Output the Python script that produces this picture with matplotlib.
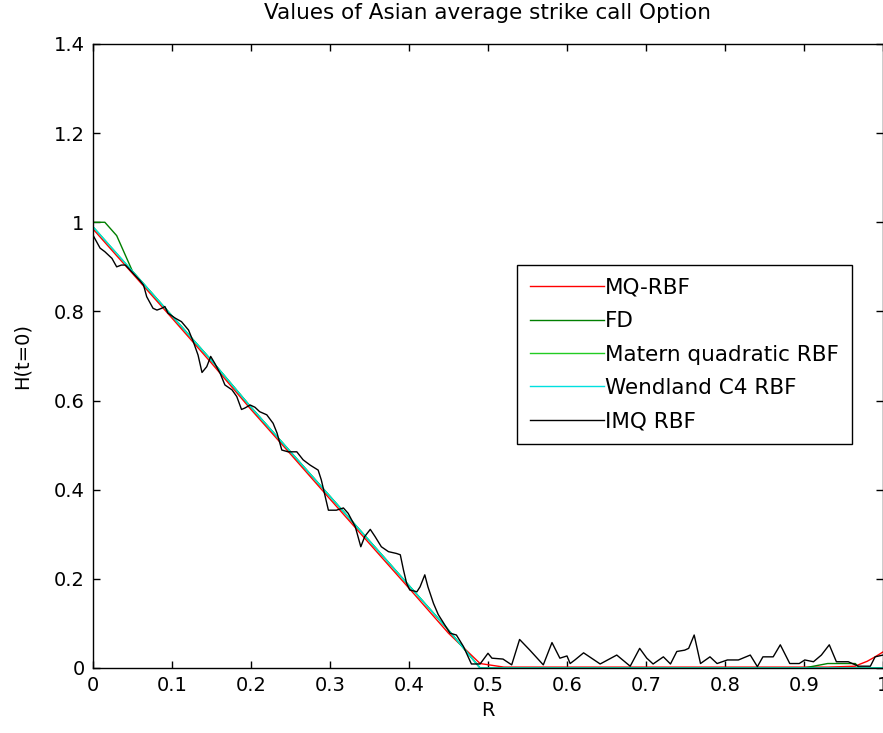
import matplotlib
matplotlib.use('Agg')
import matplotlib.pyplot as plt

# smooth solutions
r_smooth = [0.0, 0.015, 0.03, 0.05, 0.10, 0.15, 0.20, 0.25, 0.30, 0.35, 0.40, 0.45, 0.49,
            0.52, 0.60, 0.70, 0.80, 0.90, 0.93, 0.965, 0.97, 0.98, 0.99, 1.0]
mq_rbf = [0.985, 0.955, 0.925, 0.885, 0.785, 0.684, 0.580, 0.480, 0.379, 0.279, 0.179, 0.078, 0.010,
          0.002, 0.002, 0.002, 0.002, 0.002, 0.002, 0.004, 0.008, 0.015, 0.025, 0.036]
fd = [1.0, 1.0, 0.97, 0.89, 0.79, 0.69, 0.585, 0.485, 0.385, 0.285, 0.185, 0.085, 0.0,
      0.0, 0.0, 0.0, 0.0, 0.0, 0.01, 0.01, 0.0, 0.0, 0.0, 0.0]
matern = [0.99, 0.96, 0.93, 0.89, 0.79, 0.69, 0.585, 0.485, 0.385, 0.285, 0.185, 0.085, 0.0,
          0.0, 0.0, 0.0, 0.0, 0.0, 0.0, 0.0, 0.0, 0.0, 0.0, 0.0]
wendland = [0.99, 0.96, 0.93, 0.89, 0.79, 0.69, 0.585, 0.485, 0.385, 0.285, 0.185, 0.085, 0.0,
            0.0, 0.0, 0.0, 0.0, 0.0, 0.0, 0.0, 0.0, 0.0, 0.0, 0.0]

# IMQ RBF (noisy)
r_imq = [0.0, 0.009, 0.015, 0.024, 0.030, 0.036, 0.041, 0.049, 0.059, 0.064, 0.068, 0.076, 0.081,
         0.087, 0.091, 0.095, 0.104, 0.112, 0.121, 0.127, 0.133, 0.138, 0.144, 0.149, 0.154, 0.161,
         0.167, 0.176, 0.182, 0.188, 0.192, 0.199, 0.205, 0.211, 0.220, 0.228, 0.233, 0.239, 0.247,
         0.258, 0.266, 0.275, 0.285, 0.289, 0.298, 0.308, 0.317, 0.323, 0.332, 0.339, 0.344, 0.351,
         0.357, 0.365, 0.374, 0.384, 0.389, 0.393, 0.397, 0.401, 0.410, 0.414, 0.420, 0.424, 0.431,
         0.437, 0.448, 0.452, 0.460, 0.469, 0.479, 0.490, 0.500, 0.505, 0.519, 0.530, 0.540, 0.553,
         0.570, 0.581, 0.591, 0.600, 0.604, 0.610, 0.621, 0.642, 0.663, 0.680, 0.692, 0.701, 0.709,
         0.722, 0.731, 0.739, 0.749, 0.754, 0.761, 0.769, 0.781, 0.790, 0.803, 0.817, 0.832, 0.841,
         0.848, 0.861, 0.870, 0.882, 0.894, 0.901, 0.912, 0.922, 0.932, 0.941, 0.956, 0.969, 0.984,
         0.990, 1.0]
imq_rbf = [0.971, 0.942, 0.934, 0.919, 0.900, 0.904, 0.904, 0.889, 0.870, 0.859, 0.833, 0.807, 0.803,
           0.807, 0.811, 0.796, 0.785, 0.777, 0.758, 0.732, 0.702, 0.663, 0.676, 0.699, 0.684, 0.661,
           0.635, 0.624, 0.609, 0.580, 0.583, 0.590, 0.585, 0.575, 0.568, 0.549, 0.527, 0.489, 0.485,
           0.485, 0.467, 0.455, 0.444, 0.422, 0.354, 0.354, 0.359, 0.347, 0.317, 0.272, 0.295, 0.311,
           0.295, 0.272, 0.261, 0.257, 0.254, 0.220, 0.190, 0.175, 0.171, 0.182, 0.209, 0.182, 0.145,
           0.120, 0.089, 0.078, 0.074, 0.048, 0.009, 0.009, 0.033, 0.022, 0.020, 0.007, 0.064, 0.040,
           0.007, 0.057, 0.022, 0.027, 0.010, 0.018, 0.034, 0.009, 0.029, 0.004, 0.044, 0.022, 0.009,
           0.025, 0.009, 0.037, 0.040, 0.044, 0.074, 0.010, 0.025, 0.010, 0.018, 0.018, 0.029, 0.003,
           0.025, 0.025, 0.052, 0.010, 0.010, 0.018, 0.014, 0.029, 0.052, 0.014, 0.014, 0.004, 0.004,
           0.025, 0.029]

x_ticks = [0, 0.1, 0.2, 0.3, 0.4, 0.5, 0.6, 0.7, 0.8, 0.9, 1]
x_ticklabels = ['0', '0.1', '0.2', '0.3', '0.4', '0.5', '0.6', '0.7', '0.8', '0.9', '1']
y_ticks = [0, 0.2, 0.4, 0.6, 0.8, 1.0, 1.2, 1.4]
y_ticklabels = ['0', '0.2', '0.4', '0.6', '0.8', '1', '1.2', '1.4']

plt.rcParams['font.family'] = ['DejaVu Sans']
fs = 15.5
tfs = 14

fig = plt.figure(figsize=(8.83, 7.33), dpi=100)
ax = fig.add_axes([0.1053, 0.0887, 0.8947, 0.8513])

ax.plot(r_smooth, mq_rbf, color='#ff0000', lw=1.0, label='MQ-RBF')
ax.plot(r_smooth, fd, color='#007f00', lw=1.0, label='FD')
ax.plot(r_smooth, matern, color='#22cc22', lw=1.0, label='Matern quadratic RBF')
ax.plot(r_smooth, wendland, color='#00e0e0', lw=1.0, label='Wendland C4 RBF')
ax.plot(r_imq, imq_rbf, color='black', lw=1.0, label='IMQ RBF')

ax.set_xlim(0, 1)
ax.set_ylim(0, 1.4)
ax.set_xticks(x_ticks)
ax.set_xticklabels(x_ticklabels)
ax.set_yticks(y_ticks)
ax.set_yticklabels(y_ticklabels)
ax.tick_params(direction='in', top=True, right=True, length=5, width=1,
               labelsize=tfs, pad=6)
for s in ax.spines.values():
    s.set_linewidth(1.0)

# title placed in figure coordinates (centred over the full axes width)
fig.text(488 / 883, 1 - 13 / 733, 'Values of Asian average strike call Option',
         fontsize=fs, ha='center', va='center')
ax.set_xlabel('R', fontsize=tfs, labelpad=4)
ax.set_ylabel('H(t=0)', fontsize=tfs, labelpad=16)

leg = ax.legend(loc='upper left', bbox_to_anchor=(517 / 883, 1 - 265 / 733),
                bbox_transform=fig.transFigure, fontsize=fs, frameon=True,
                fancybox=False, framealpha=1, edgecolor='black',
                handlelength=3.45, handletextpad=0.05, labelspacing=0.62,
                borderpad=0.6, borderaxespad=0)
leg.get_frame().set_linewidth(1.0)

fig.savefig('out.png', dpi=100)
